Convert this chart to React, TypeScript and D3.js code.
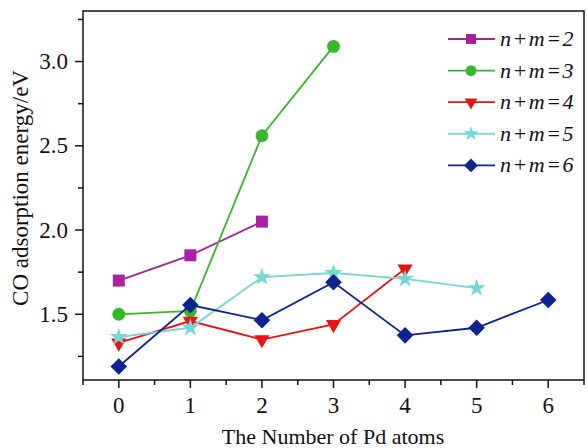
import React from "react";
import {
  scaleLinear,
  line,
  symbol,
  symbolSquare,
  symbolCircle,
  symbolTriangle,
  symbolStar,
  range
} from "d3";

// number of Pd atoms on x, CO adsorption energy on y
const series2 = [1.70, 1.85, 2.05];
const series3 = [1.50, 1.52, 2.56, 3.09];
const series4 = [1.33, 1.46, 1.35, 1.44, 1.77];
const series5 = [1.365, 1.42, 1.72, 1.745, 1.71, 1.655];
const series6 = [1.19, 1.555, 1.465, 1.69, 1.375, 1.42, 1.585];
const legendLabels = ["n+m=2", "n+m=3", "n+m=4", "n+m=5", "n+m=6"];
const xTickLabels = ["0", "1", "2", "3", "4", "5", "6"];
const yTickValues = [1.5, 2.0, 2.5, 3.0];

const width = 588;
const height = 448;
const left = 83;
const right = 584;
const top = 11;
const bottom = 380;

const FONT = "'Liberation Serif', 'Times New Roman', serif";

const styles = [
  { color: "#a8229f", shape: symbolSquare, size: 144, rot: 0 },
  { color: "#35b82a", shape: symbolCircle, size: 130, rot: 0 },
  { color: "#e81414", shape: symbolTriangle, size: 100, rot: 180 },
  { color: "#74d8d2", shape: symbolStar, size: 100, rot: 0 },
  { color: "#0c2390", shape: symbolSquare, size: 138, rot: 45 }
];

const allSeries = [series2, series3, series4, series5, series6];

const App = () => {
  const xScale = scaleLinear().domain([-0.5, 6.5]).range([left, right]);
  const yScale = scaleLinear().domain([1.11, 3.3]).range([bottom, top]);

  const myLine = line<number>()
    .x((v, i) => xScale(i))
    .y(v => yScale(v));

  const xMinor = range(-0.5, 6.51, 0.5);
  const yMinor = range(1.25, 3.26, 0.25);

  return (
    <svg width={width} height={height} style={{ position: "absolute", left: 0, top: 0 }}>
      <rect x={0} y={0} width={width} height={height} fill="white" />
      {/* frame */}
      <rect
        x={left}
        y={top}
        width={right - left}
        height={bottom - top}
        fill="none"
        stroke="#111"
        strokeWidth={1.5}
      />
      {/* x ticks */}
      {xMinor.map(v => {
        const major = Math.abs(v - Math.round(v)) < 0.01;
        return (
          <line
            key={"xt" + v}
            x1={xScale(v)}
            x2={xScale(v)}
            y1={bottom}
            y2={bottom + (major ? 8 : 5)}
            stroke="#111"
            strokeWidth={1.5}
          />
        );
      })}
      {xTickLabels.map((t, i) => (
        <text
          key={"xl" + t}
          x={xScale(i)}
          y={413}
          textAnchor="middle"
          fontFamily={FONT}
          fontSize={23}
          fill="#111"
        >
          {t}
        </text>
      ))}
      {/* y ticks */}
      {yMinor.map(v => {
        const major = Math.abs(v * 2 - Math.round(v * 2)) < 0.01;
        return (
          <line
            key={"yt" + v}
            x1={left}
            x2={left - (major ? 8 : 5)}
            y1={yScale(v)}
            y2={yScale(v)}
            stroke="#111"
            strokeWidth={1.5}
          />
        );
      })}
      {yTickValues.map(v => (
        <text
          key={"yl" + v}
          x={68}
          y={yScale(v) + 7.5}
          textAnchor="end"
          fontFamily={FONT}
          fontSize={23}
          fill="#111"
        >
          {v.toFixed(1)}
        </text>
      ))}
      <text
        x={333}
        y={444}
        textAnchor="middle"
        fontFamily={FONT}
        fontSize={22}
        fill="#111"
      >
        The Number of Pd atoms
      </text>
      <text
        transform={`translate(28, 188) rotate(-90)`}
        textAnchor="middle"
        fontFamily={FONT}
        fontSize={23}
        fill="#111"
      >
        CO adsorption energy/eV
      </text>
      {/* series */}
      {allSeries.map((data, si) => (
        <g key={"s" + si}>
          <path
            d={myLine(data) || ""}
            fill="none"
            stroke={styles[si].color}
            strokeWidth={1.8}
          />
          {data.map((v, i) => (
            <path
              key={i}
              d={symbol().type(styles[si].shape).size(styles[si].size)() || ""}
              transform={`translate(${xScale(i)}, ${yScale(v)}) rotate(${styles[si].rot})`}
              fill={styles[si].color}
            />
          ))}
        </g>
      ))}
      {/* legend */}
      {legendLabels.map((lab, i) => {
        const y = 39 + i * 31.6;
        const st = styles[i];
        return (
          <g key={"lg" + i}>
            <line x1={448} x2={495} y1={y} y2={y} stroke={st.color} strokeWidth={1.8} />
            <path
              d={symbol().type(st.shape).size(st.size * 0.7)() || ""}
              transform={`translate(471, ${y}) rotate(${st.rot})`}
              fill={st.color}
            />
            <text
              x={500}
              y={y + 7}
              fontFamily={FONT}
              fontStyle="italic"
              fontSize={22}
              letterSpacing={1.5}
              fill="#111"
            >
              {lab}
            </text>
          </g>
        );
      })}
    </svg>
  );
};

export default App;
